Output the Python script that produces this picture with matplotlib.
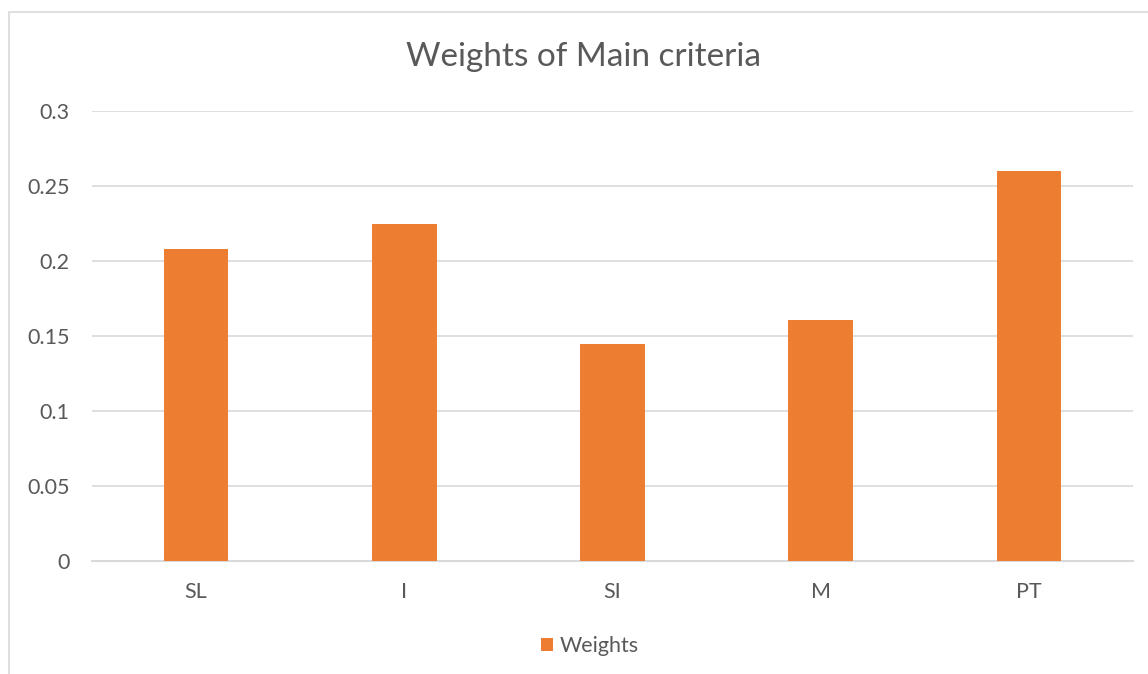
import matplotlib.pyplot as plt
from matplotlib.patches import Rectangle
import numpy as np

criteria = ['SL', 'I', 'SI', 'M', 'PT']
weights = [0.208, 0.225, 0.145, 0.161, 0.260]
y_ticks = [0, 0.05, 0.1, 0.15, 0.2, 0.25, 0.3]
y_tick_labels = ['0', '0.05', '0.1', '0.15', '0.2', '0.25', '0.3']

BAR_COLOR = '#ED7D31'
GRID_COLOR = '#D9D9D9'
TEXT_COLOR = '#595959'

plt.rcParams['font.family'] = ['Lato', 'DejaVu Sans']

fig = plt.figure(figsize=(11.48, 6.74), dpi=100)

# chart area outline
fig.patches.append(Rectangle((9 / 1148, -0.05), 1.2, 1 - 12 / 674 + 0.05,
                             transform=fig.transFigure, fill=False,
                             edgecolor=GRID_COLOR, linewidth=1.2))

ax = fig.add_axes([92 / 1148, 113 / 674, 1041 / 1148, 450 / 674])
x = np.arange(len(criteria))
ax.bar(x, weights, width=0.31, color=BAR_COLOR, label='Weights', zorder=3)

ax.set_xlim(-0.5, len(criteria) - 0.5)
ax.set_ylim(0, 0.3)
ax.set_xticks(x)
ax.set_xticklabels(criteria)
ax.set_yticks(y_ticks)
ax.set_yticklabels(y_tick_labels)
ax.tick_params(axis='both', length=0, labelsize=15.5, colors=TEXT_COLOR)
ax.tick_params(axis='y', pad=16)
ax.tick_params(axis='x', pad=15)
ax.yaxis.grid(True, color=GRID_COLOR, linewidth=1.2, zorder=0)
for side in ('left', 'right', 'top'):
    ax.spines[side].set_visible(False)
ax.spines['bottom'].set_color(GRID_COLOR)
ax.spines['bottom'].set_linewidth(1.5)

fig.text(584 / 1148, 1 - 57 / 674, 'Weights of Main criteria', ha='center',
         va='center', fontsize=24, color=TEXT_COLOR)

fig.legend(loc='center', bbox_to_anchor=(590 / 1148, 1 - 646 / 674),
           frameon=False, fontsize=15.5, labelcolor=TEXT_COLOR,
           handlelength=0.55, handleheight=0.55, handletextpad=0.3)

fig.savefig('out.png', dpi=100)
